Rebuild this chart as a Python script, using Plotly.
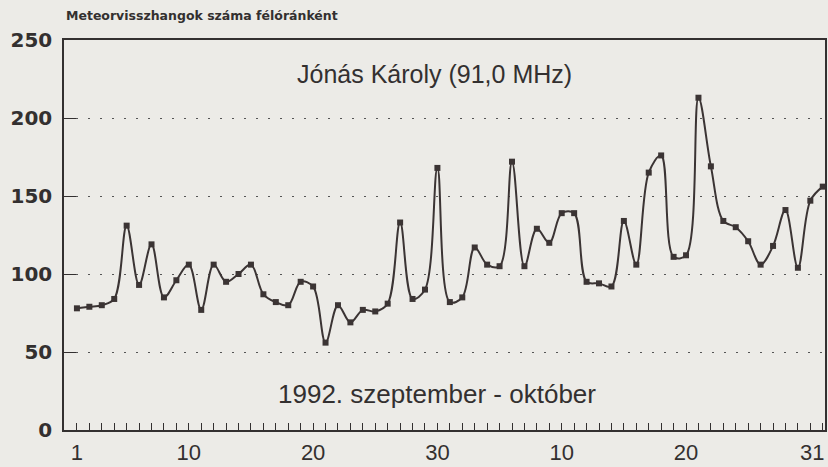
import plotly.graph_objects as go

# Days: 1-30 = September 1-30, 31-61 = October 1-31
days = list(range(1, 62))
sep_values = [78, 79, 80, 84, 131, 93, 119, 85, 96, 106,
              77, 106, 95, 100, 106, 87, 82, 80, 95, 92,
              56, 80, 69, 77, 76, 81, 133, 84, 90, 168]
oct_values = [82, 85, 117, 106, 105, 172, 105, 129, 120, 139,
              139, 95, 94, 92, 134, 106, 165, 176, 111, 112,
              213, 169, 134, 130, 121, 106, 118, 141, 104, 147, 156]
values = sep_values + oct_values

tick_days = [1, 10, 20, 30, 40, 50, 61]
tick_labels = ["1", "10", "20", "30", "10", "20", "31"]
y_ticks = [0, 50, 100, 150, 200, 250]

y_title = "Meteorvisszhangok száma félóránként"
station = "Jónás Károly (91,0 MHz)"
period = "1992. szeptember - október"

bg = "#ecebe7"
ink = "#333030"
line_col = "#3b3434"

fig = go.Figure()
fig.add_trace(go.Scatter(
    x=days, y=values, mode="lines+markers",
    line=dict(color=line_col, width=2, shape="spline", smoothing=1.0),
    marker=dict(symbol="square", size=6, color=line_col),
    hoverinfo="x+y", showlegend=False, cliponaxis=False,
))

# last label ("31") sits at the right border; draw it right-aligned as an annotation
axis_text = tick_labels[:-1] + [""]

fig.update_layout(
    width=828, height=467,
    margin=dict(l=64, r=3, t=40, b=37),
    paper_bgcolor=bg, plot_bgcolor=bg,
    font=dict(family="Liberation Sans, Arial, sans-serif", color=ink),
    xaxis=dict(
        range=[-0.04, 61.18], automargin=False,
        tickmode="array", tickvals=tick_days, ticktext=axis_text,
        ticks="inside", ticklen=7, tickcolor=ink, tickwidth=1,
        minor=dict(dtick=1, tick0=1, ticks="inside", ticklen=7, tickcolor=ink, tickwidth=1, showgrid=False),
        showline=True, linecolor=ink, linewidth=1.5, mirror=True,
        showgrid=False, zeroline=False,
        tickfont=dict(size=22, color=ink, family="Liberation Sans, Arial, sans-serif"),
        ticklabelstandoff=2,
    ),
    yaxis=dict(
        range=[0, 250], automargin=False,
        tickmode="array", tickvals=y_ticks,
        ticks="inside", ticklen=12, tickcolor=ink, tickwidth=1.2,
        showline=True, linecolor=ink, linewidth=1.5, mirror=True,
        showgrid=True, gridcolor="#555555", gridwidth=1.2, griddash="2px,10px",
        zeroline=False,
        tickfont=dict(size=20, color=ink, family="DejaVu Sans, sans-serif", weight="bold"),
        ticklabelstandoff=6,
    ),
    annotations=[
        dict(text=y_title, xref="paper", yref="paper", x=0, y=1,
             xanchor="left", yanchor="middle", yshift=25, showarrow=False,
             font=dict(size=12.5, family="DejaVu Sans, sans-serif", weight="bold", color=ink)),
        dict(text=station, xref="x", yref="y", x=29.8, y=228,
             xanchor="center", yanchor="middle", showarrow=False,
             font=dict(size=25, color=ink)),
        dict(text=period, xref="x", yref="y", x=30.0, y=23,
             xanchor="center", yanchor="middle", showarrow=False,
             font=dict(size=26, color=ink)),
        dict(text=tick_labels[-1], xref="x", yref="paper", x=tick_days[-1], y=0,
             xanchor="right", yanchor="top", xshift=3, yshift=-8, showarrow=False,
             font=dict(size=22, color=ink)),
    ],
)

fig.write_html(
    "out.html",
    config={"displayModeBar": False},
    post_script="document.body.style.margin='0';document.body.style.background='#ecebe7';",
)
